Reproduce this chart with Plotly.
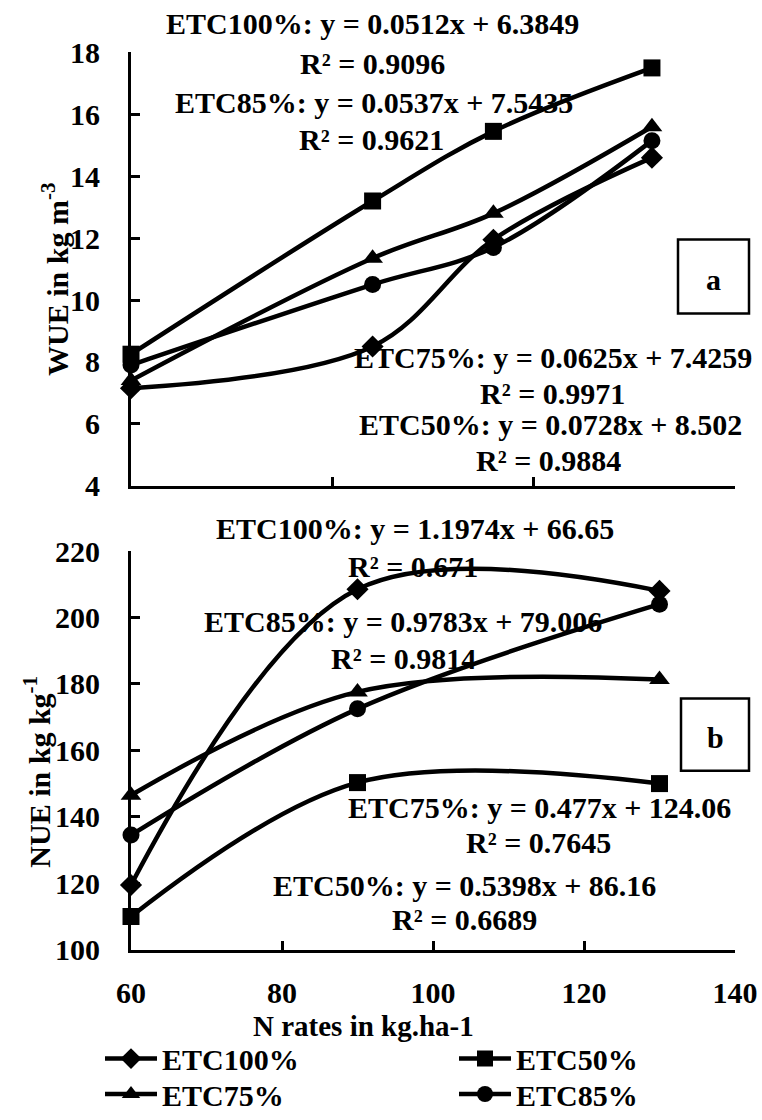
import plotly.graph_objects as go

# ---- data -------------------------------------------------------------
series = ["ETC100%", "ETC50%", "ETC75%", "ETC85%"]
symbols = {"ETC100%": "diamond", "ETC50%": "square",
           "ETC75%": "triangle-up", "ETC85%": "circle"}
marker_size = {"ETC100%": 17, "ETC50%": 17, "ETC75%": 18, "ETC85%": 17}

# panel a: water use efficiency (kg m-3)
wue_x = [60, 92, 108, 129]
wue_etc100 = [7.15, 8.5, 11.95, 14.6]
wue_etc50 = [8.25, 13.2, 15.45, 17.5]
wue_etc75 = [7.4, 11.35, 12.8, 15.6]
wue_etc85 = [7.9, 10.5, 11.7, 15.15]

# panel b: nitrogen use efficiency (kg kg-1)
n_rates = [60, 90, 130]
nue_etc100 = [119.5, 208.5, 208.0]
nue_etc50 = [110.0, 150.3, 150.0]
nue_etc75 = [146.5, 177.6, 181.3]
nue_etc85 = [134.5, 172.5, 204.0]

wue = {"ETC100%": wue_etc100, "ETC50%": wue_etc50,
       "ETC75%": wue_etc75, "ETC85%": wue_etc85}
nue = {"ETC100%": nue_etc100, "ETC50%": nue_etc50,
       "ETC75%": nue_etc75, "ETC85%": nue_etc85}

wue_ticks = [4, 6, 8, 10, 12, 14, 16, 18]
nue_ticks = [100, 120, 140, 160, 180, 200, 220]
x_ticks = [60, 80, 100, 120, 140]

wue_eqs = [("ETC100%: y = 0.0512x + 6.3849", 372, 24),
           ("R² = 0.9096", 372, 64),
           ("ETC85%: y = 0.0537x + 7.5435", 374, 104),
           ("R² = 0.9621", 371, 141),
           ("ETC75%: y = 0.0625x + 7.4259", 553, 361),
           ("R² = 0.9971", 552, 398),
           ("ETC50%: y = 0.0728x + 8.502", 550, 429),
           ("R² = 0.9884", 548, 465)]
nue_eqs = [("ETC100%: y = 1.1974x + 66.65", 415, 534),
           ("R² = 0.671", 413, 573),
           ("ETC85%: y = 0.9783x + 79.006", 403, 628),
           ("R² = 0.9814", 403, 666),
           ("ETC75%: y = 0.477x + 124.06", 539, 816),
           ("R² = 0.7645", 538, 852),
           ("ETC50%: y = 0.5398x + 86.16", 464, 895),
           ("R² = 0.6689", 464, 929)]

# ---- layout helpers ---------------------------------------------------
W, H = 762, 1120
FONT = "Liberation Serif, Times New Roman, serif"
FS = 30
BOLD = dict(family=FONT, size=FS, color="black", weight="bold")


def fx(px):
    return px / W


def fy(py):
    return 1 - py / H


# one legend box per entry, laid out as a 2 x 2 grid
legend_slot = {"ETC100%": ("legend", 100, 1070),
               "ETC50%": ("legend2", 454, 1070),
               "ETC75%": ("legend3", 100, 1106),
               "ETC85%": ("legend4", 454, 1106)}

fig = go.Figure()
for name in series:
    common = dict(
        mode="lines+markers",
        line=dict(color="black", width=4.5, shape="spline", smoothing=1.0),
        marker=dict(symbol=symbols[name], size=marker_size[name], color="black"),
        name=name,
        cliponaxis=False,
    )
    fig.add_trace(go.Scatter(x=wue_x, y=wue[name], xaxis="x", yaxis="y",
                             legend=legend_slot[name][0], showlegend=True,
                             **common))
    fig.add_trace(go.Scatter(x=n_rates, y=nue[name], xaxis="x2", yaxis="y2",
                             showlegend=False, **common))

axis_common = dict(
    showgrid=False, zeroline=False, showline=True, linecolor="black",
    linewidth=3, ticks="inside", ticklen=9, tickwidth=3, tickcolor="black",
    tickfont=BOLD, automargin=False,
)

xdom = [fx(131), fx(735)]
layout = dict(
    width=W, height=H,
    margin=dict(l=0, r=0, t=0, b=0),
    paper_bgcolor="white", plot_bgcolor="white",
    font=BOLD,
    xaxis=dict(domain=xdom, range=[60, 140], tick0=60, dtick=80 / 3,
               showticklabels=False, anchor="y", **axis_common),
    yaxis=dict(domain=[fy(491), fy(53)], range=[4, 18], tickvals=wue_ticks,
               ticklabelstandoff=22, anchor="x", **axis_common),
    xaxis2=dict(domain=xdom, range=[60, 140], tickvals=x_ticks,
                ticklabelstandoff=14, anchor="y2", **axis_common),
    yaxis2=dict(domain=[fy(960), fy(557)], range=[100, 220], tickvals=nue_ticks,
                ticklabelstandoff=22, anchor="x2", **axis_common),
)
for key, lx, ly in legend_slot.values():
    layout[key] = dict(x=fx(lx), y=fy(ly), xanchor="left", yanchor="middle",
                       orientation="v", itemwidth=52,
                       bgcolor="rgba(0,0,0,0)", font=BOLD)
fig.update_layout(**layout)

annotations = []
for text, px, py in wue_eqs + nue_eqs:
    annotations.append(dict(text=text, x=fx(px), y=fy(py), xref="paper",
                            yref="paper", showarrow=False,
                            xanchor="center", yanchor="middle"))

# axis titles
annotations.append(dict(text="WUE in kg m<sup>-3</sup>", x=fx(55), y=fy(283),
                        xref="paper", yref="paper", showarrow=False,
                        textangle=-90, xanchor="center", yanchor="middle"))
annotations.append(dict(text="NUE in kg kg<sup>-1</sup>", x=fx(37), y=fy(780),
                        xref="paper", yref="paper", showarrow=False,
                        textangle=-90, xanchor="center", yanchor="middle"))
annotations.append(dict(text="N rates in kg.ha-1", x=fx(363), y=fy(1037),
                        xref="paper", yref="paper", showarrow=False,
                        xanchor="center", yanchor="middle",
                        font=dict(family=FONT, size=29, color="black",
                                  weight="bold")))

# panel letters in framed boxes
for letter, (x0, y0, x1, y1) in {"a": (678, 242, 749, 317),
                                 "b": (681, 706, 749, 779)}.items():
    fig.add_shape(type="rect", xref="paper", yref="paper",
                  x0=fx(x0), x1=fx(x1), y0=fy(y1), y1=fy(y0),
                  line=dict(color="black", width=2.5), fillcolor="white")
    annotations.append(dict(text=letter, x=fx((x0 + x1) / 2),
                            y=fy((y0 + y1) / 2 + 3), xref="paper", yref="paper",
                            showarrow=False, xanchor="center", yanchor="middle"))

fig.update_layout(annotations=annotations)
fig.write_html("out.html")
